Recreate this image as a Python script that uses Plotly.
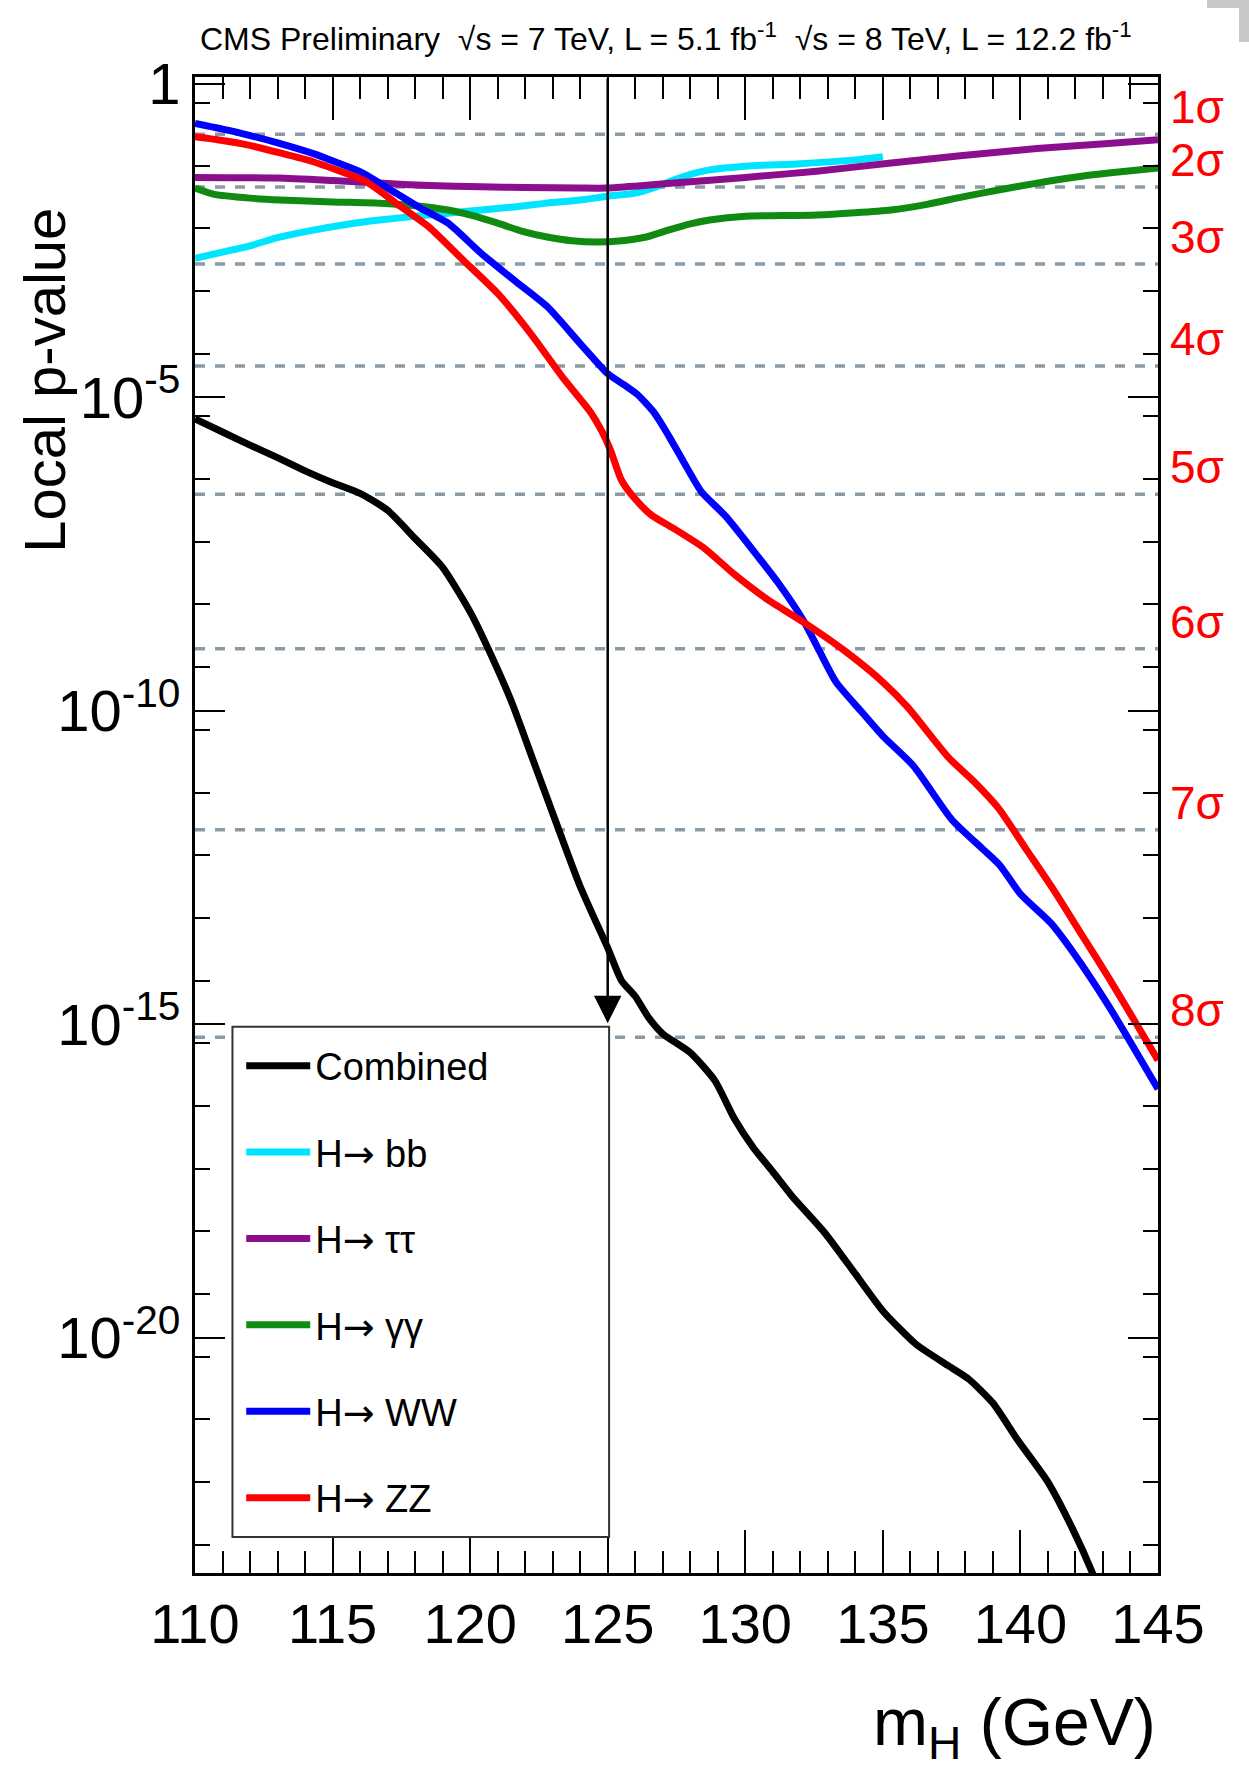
import plotly.graph_objects as go
import numpy as np

# ---------------- data ----------------
mass_combined = [110.0, 111.0, 112.0, 113.0, 114.0, 115.0, 116.0, 117.0, 118.0, 119.0,
                 120.0, 120.7, 121.5, 122.3, 123.1, 124.0, 125.0, 125.5, 126.0, 126.5,
                 127.0, 128.0, 128.9, 129.6, 130.3, 131.0, 131.7, 132.9, 134.0, 135.0,
                 136.2, 137.4, 138.1, 139.0, 139.9, 141.0, 141.9, 142.6, 143.0]
log10p_combined = [-5.34, -5.55, -5.76, -5.96, -6.17, -6.36, -6.53, -6.80, -7.25, -7.71,
                   -8.42, -9.05, -9.85, -10.80, -11.75, -12.80, -13.78, -14.30, -14.55, -14.90,
                   -15.15, -15.45, -15.90, -16.50, -16.97, -17.35, -17.74, -18.33, -18.98, -19.57,
                   -20.10, -20.45, -20.65, -21.04, -21.63, -22.30, -23.05, -23.73, -24.20]

mass_bb = [110.0, 111.0, 112.0, 113.0, 114.3, 115.5, 116.7, 118.0, 119.2, 120.4, 121.6,
           122.8, 124.0, 125.0, 126.0, 126.7, 127.4, 128.0, 128.7, 130.0, 132.0, 134.0, 135.0]
log10p_bb = [-2.78, -2.68, -2.58, -2.45, -2.33, -2.24, -2.17, -2.11, -2.06, -2.01, -1.96,
             -1.90, -1.85, -1.79, -1.74, -1.65, -1.53, -1.44, -1.37, -1.31, -1.27, -1.21, -1.16]

mass_tautau = [110.0, 113.0, 115.0, 116.7, 118.5, 120.4, 122.0, 124.0, 125.0, 126.0,
               127.4, 130.0, 132.6, 135.3, 137.9, 140.6, 143.2, 145.0]
log10p_tautau = [-1.49, -1.50, -1.54, -1.58, -1.62, -1.64, -1.65, -1.66, -1.66, -1.63,
                 -1.58, -1.49, -1.39, -1.26, -1.14, -1.03, -0.95, -0.89]

mass_gammagamma = [110.0, 110.7, 112.0, 113.1, 115.0, 116.7, 118.0, 119.2, 120.1, 121.0,
                   121.9, 122.8, 123.7, 124.6, 125.5, 126.4, 127.2, 128.0, 128.7, 130.0,
                   132.6, 135.3, 136.6, 137.9, 139.2, 140.6, 141.9, 143.2, 145.0]
log10p_gammagamma = [-1.66, -1.76, -1.82, -1.85, -1.88, -1.90, -1.94, -2.01, -2.10, -2.22,
                     -2.35, -2.44, -2.50, -2.52, -2.50, -2.44, -2.33, -2.23, -2.17, -2.11,
                     -2.09, -2.01, -1.92, -1.80, -1.69, -1.58, -1.49, -1.42, -1.34]

mass_ww = [110.0, 111.0, 111.9, 113.1, 114.3, 115.2, 116.1, 117.3, 118.2, 119.2, 120.4,
           121.6, 122.8, 124.0, 125.0, 125.6, 126.1, 126.7, 127.2, 127.75, 128.4, 129.3,
           130.5, 131.2, 132.1, 132.7, 133.3, 134.2, 135.0, 136.1, 137.5, 138.6, 139.25,
           140.0, 141.1, 141.9, 143.2, 145.0]
log10p_ww = [-0.63, -0.72, -0.81, -0.95, -1.11, -1.26, -1.42, -1.74, -1.98, -2.22, -2.70,
             -3.13, -3.55, -4.14, -4.62, -4.80, -4.96, -5.25, -5.60, -6.02, -6.50, -6.90,
             -7.56, -7.96, -8.55, -9.05, -9.54, -10.00, -10.40, -10.87, -11.73, -12.19, -12.46,
             -12.92, -13.38, -13.84, -14.70, -16.03]

mass_zz = [110.0, 111.0, 111.9, 113.1, 114.3, 115.2, 116.1, 116.7, 117.3, 118.5, 119.75,
           121.0, 122.2, 123.4, 124.4, 124.8, 125.1, 125.5, 126.0, 126.6, 127.4, 128.5,
           129.6, 130.8, 132.1, 133.7, 135.0, 135.9, 137.4, 138.3, 139.2, 140.2, 141.2,
           142.2, 143.2, 144.2, 145.0]
log10p_zz = [-0.84, -0.90, -0.97, -1.10, -1.24, -1.38, -1.53, -1.70, -1.90, -2.28, -2.81,
             -3.34, -3.98, -4.70, -5.25, -5.55, -5.84, -6.32, -6.62, -6.88, -7.09, -7.40,
             -7.82, -8.22, -8.58, -9.07, -9.54, -9.94, -10.75, -11.12, -11.55, -12.20, -12.85,
             -13.55, -14.25, -14.98, -15.57]

ARROW = "<span style='font-family:DejaVu Sans'>\u2192</span>"
series_names = ["Combined", f"H{ARROW} bb", f"H{ARROW} \u03c4\u03c4", f"H{ARROW} \u03b3\u03b3",
                f"H{ARROW} WW", f"H{ARROW} ZZ"]
series_colors = ["#000000", "#00e5ff", "#8b0f8c", "#118a11", "#0000ff", "#ff0000"]

sigma_labels = ["1\u03c3", "2\u03c3", "3\u03c3", "4\u03c3", "5\u03c3", "6\u03c3", "7\u03c3", "8\u03c3"]
sigma_pvalues = [0.1587, 0.02275, 1.350e-3, 3.167e-5, 2.867e-7, 9.866e-10, 1.280e-12, 6.221e-16]

x_range = [110, 145]
x_major_ticks = [110, 115, 120, 125, 130, 135, 140, 145]
y_log_range = [-23.75, 0.112]
y_decades = list(range(0, -24, -1))
y_labelled_decades = [0, -5, -10, -15, -20]

arrow_mass = 125.0
arrow_tip_log10p = -14.98

title_text = ("CMS Preliminary  \u221as = 7 TeV, L = 5.1 fb<sup>-1</sup>  "
              "\u221as = 8 TeV, L = 12.2 fb<sup>-1</sup>")

# ---------------- figure ----------------
FONT = "Liberation Sans, Arial, Helvetica, sans-serif"

fig = go.Figure()

# sigma reference lines
for p in sigma_pvalues:
    fig.add_trace(go.Scatter(x=x_range, y=[p, p], mode="lines", showlegend=False,
                             hoverinfo="skip",
                             line=dict(color="#8a9ba6", width=3.5, dash="10px,10px")))

masses = [mass_combined, mass_bb, mass_tautau, mass_gammagamma, mass_ww, mass_zz]
logps = [log10p_combined, log10p_bb, log10p_tautau, log10p_gammagamma, log10p_ww, log10p_zz]
for i, (m, lp) in enumerate(zip(masses, logps)):
    fig.add_trace(go.Scatter(
        x=m, y=[10 ** v for v in lp], mode="lines", name=series_names[i],
        legendgroup=f"g{i}",
        line=dict(color=series_colors[i], width=7, shape="spline", smoothing=0.6)))

y_label_vals = [10.0 ** d for d in y_labelled_decades]
y_label_text = ["1" if d == 0 else f"10<sup>{d}</sup>" for d in y_labelled_decades]
y_all_decades = [10.0 ** d for d in y_decades]
y_minor = [5 * 10.0 ** (d - 1) for d in y_decades]

fig.update_xaxes(
    range=x_range, showgrid=False, zeroline=False,
    showline=True, linecolor="black", linewidth=3, mirror="ticks",
    ticks="inside", ticklen=43, tickwidth=2, tickcolor="black",
    tickmode="array", tickvals=x_major_ticks,
    tickfont=dict(family=FONT, size=56, color="black"),
    ticklabelstandoff=0,
    minor=dict(ticks="inside", ticklen=22, tickwidth=2, tickcolor="black",
               tickmode="linear", tick0=110, dtick=1, showgrid=False),
)

fig.update_layout(
    yaxis=dict(
        type="log", range=y_log_range, showgrid=False, zeroline=False,
        showline=True, linecolor="black", linewidth=3, mirror="ticks",
        ticks="inside", ticklen=30, tickwidth=2, tickcolor="black",
        tickmode="array", tickvals=y_label_vals, ticktext=y_label_text,
        tickfont=dict(family=FONT, size=58, color="black"),
        ticklabelstandoff=0,
        minor=dict(ticks="inside", ticklen=15, tickwidth=2, tickcolor="black",
                   tickmode="array", tickvals=y_minor, showgrid=False),
    ),
    yaxis2=dict(
        type="log", range=y_log_range, overlaying="y", anchor="x", side="left",
        showgrid=False, zeroline=False, showline=False, mirror="ticks",
        ticks="inside", ticklen=30, tickwidth=2, tickcolor="black",
        tickmode="array", tickvals=y_all_decades, showticklabels=False,
    ),
)

annotations = []
# sigma labels on the right
for lab, p in zip(sigma_labels, sigma_pvalues):
    annotations.append(dict(text=lab, xref="paper", x=1, xanchor="left", xshift=10,
                            yref="y", y=np.log10(p), yanchor="middle", yshift=27,
                            showarrow=False, font=dict(family=FONT, size=46, color="#ff0000")))
# arrow at 125 GeV
annotations.append(dict(x=arrow_mass, y=arrow_tip_log10p, xref="x", yref="y",
                        ax=arrow_mass, ay=y_log_range[1], axref="x", ayref="y",
                        showarrow=True, arrowhead=2, arrowsize=2.2, arrowwidth=2.5,
                        arrowcolor="black", standoff=0, text=""))
# titles
annotations.append(dict(text=title_text, xref="paper", yref="paper", x=0.003, y=1.0267,
                        xanchor="left", yanchor="middle", showarrow=False,
                        font=dict(family=FONT, size=32, color="black")))
annotations.append(dict(text="m<sub>H</sub> (GeV)", xref="paper", yref="paper", x=1.0, y=-0.103,
                        xanchor="right", yanchor="middle", showarrow=False,
                        font=dict(family=FONT, size=66, color="black")))
annotations.append(dict(text="Local p-value", xref="paper", yref="paper", x=-0.156, y=0.7975,
                        xanchor="center", yanchor="middle", textangle=-90, showarrow=False,
                        font=dict(family=FONT, size=58, color="black")))

shapes = [
    # legend box
    dict(type="rect", xref="paper", yref="paper", x0=0.0389, x1=0.430, y0=0.0241, y1=0.3652,
         fillcolor="white", line=dict(color="#333333", width=2), layer="above"),
    # grey corner artefact at the top right of the picture
    dict(type="rect", xref="paper", yref="paper", x0=1.0509, x1=1.0945, y0=1.0461, y1=1.0515,
         fillcolor="#c8c8c8", line=dict(width=0), layer="above"),
    dict(type="rect", xref="paper", yref="paper", x0=1.0841, x1=1.0945, y0=1.0234, y1=1.0515,
         fillcolor="#c8c8c8", line=dict(width=0), layer="above"),
]

fig.update_layout(
    width=1249, height=1778,
    margin=dict(l=195, r=91, t=77, b=205),
    paper_bgcolor="white", plot_bgcolor="white",
    showlegend=True,
    legend=dict(x=0.048, y=0.360, xanchor="left", yanchor="top",
                bgcolor="rgba(0,0,0,0)", borderwidth=0,
                font=dict(family=FONT, size=38, color="black"),
                tracegroupgap=34, itemwidth=64, traceorder="grouped"),
    annotations=annotations,
    shapes=shapes,
)

fig.write_html("out.html")
